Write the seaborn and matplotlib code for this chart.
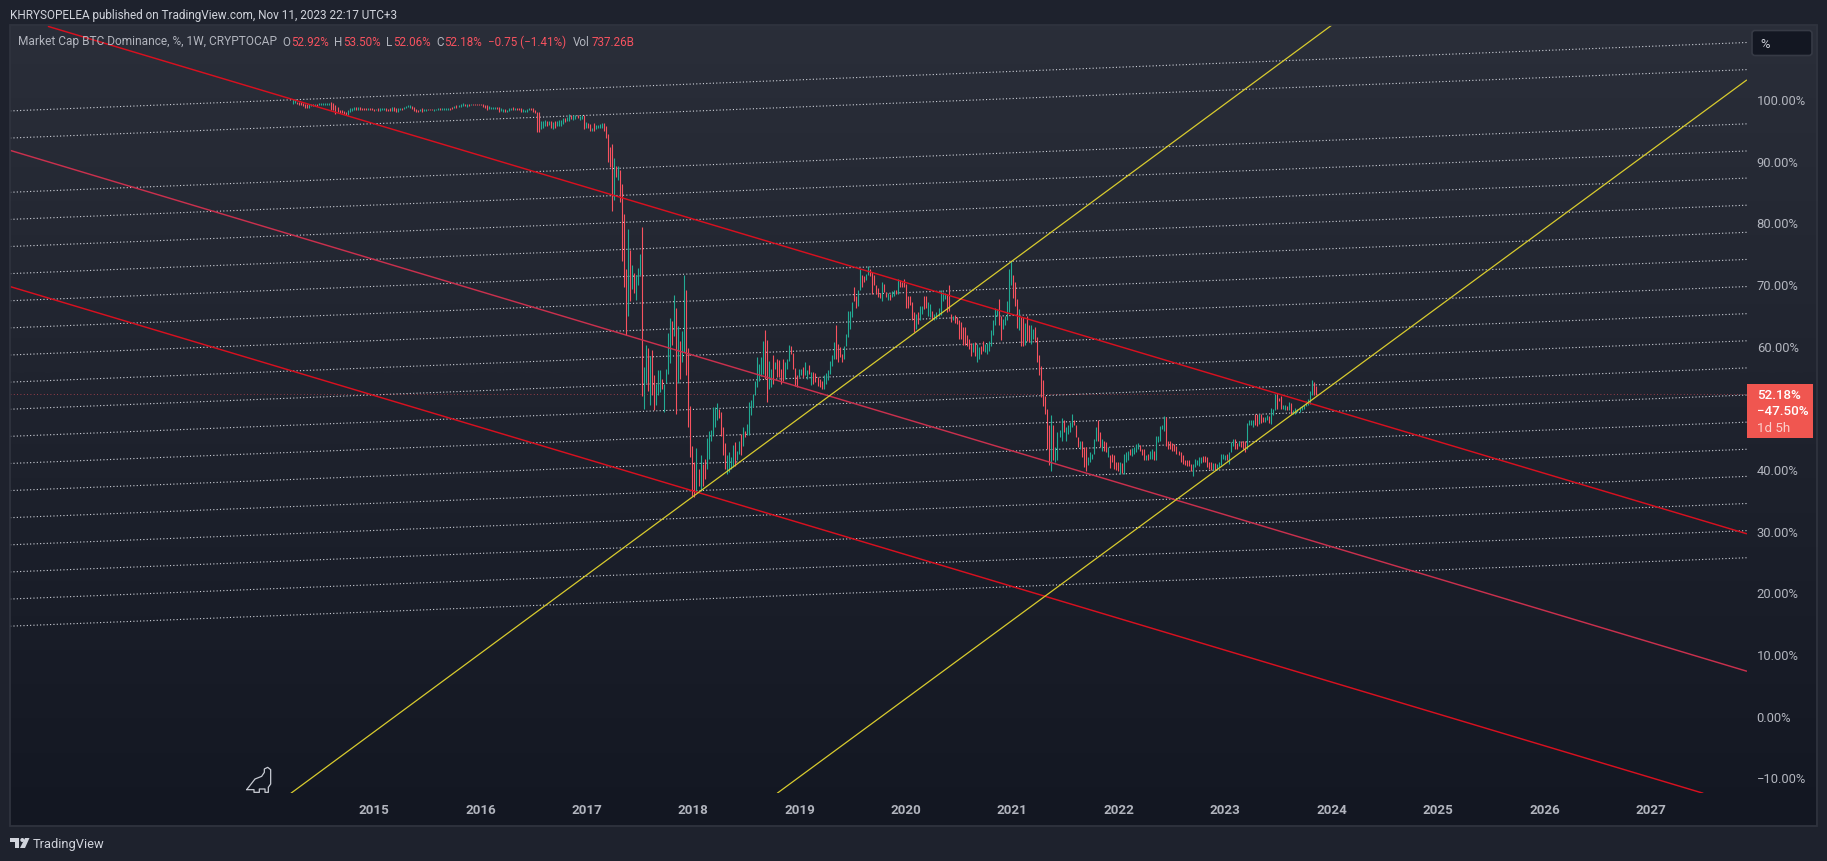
import numpy as np
import pandas as pd
import matplotlib
matplotlib.use("Agg")
import matplotlib.pyplot as plt
from matplotlib.patches import Rectangle, FancyBboxPatch, Polygon, Circle
import seaborn as sns

# ---- weekly bars (high / low / t=up r=down) ----
high_2014 = [100.0,100.0,99.6,99.6,99.5,99.4,99.3,99.2,99.2,99.2,
             99.2,99.2,99.2,99.4,99.4,99.4,99.4,99.4,99.4,99.5,
             99.4,99.0,98.7,98.3,98.2,98.1,98.0,98.2,98.5,98.6,
             98.7,98.7,98.7,98.8,98.6,98.6,98.6,98.6,98.6,98.5,
             98.4,98.4,98.6,98.5,98.5,98.6,98.5,98.4,98.5,98.8,
             98.8,98.5,98.5,98.6,98.6,98.7,98.9,99.0,99.0,98.9,
             98.7,98.4,98.3,98.4,98.5,98.4,98.4,98.4,98.4,98.4,
             98.4,98.4,98.5,98.5,98.6,98.6,98.6,98.6,98.6,98.7,
             98.9,99.0,99.1,99.2,99.4,99.3,99.2,99.3,99.3,99.3,
             99.3,99.3,99.3,99.3,99.2,99.1,99.0,98.9,98.7,98.7,
             98.7,98.7,98.7,98.5,98.4,98.4,98.3,98.5,98.6,98.7,
             98.6,98.6,98.6,98.5,98.4,98.3,98.4,98.6,98.6,98.5,
             98.3,98.0,97.9,96.5,96.4,96.7,96.5,96.4,96.5,96.3,
             96.4,96.5,96.7,96.7,96.9,96.9,97.1,97.6,97.5,97.5,
             97.5,97.5,97.3,97.5,97.5,96.3,96.2,96.0]
low_2014 = [99.2,99.4,99.2,99.1,99.1,98.9,98.6,98.5,98.6,98.9,
            98.9,98.9,98.9,99.0,99.1,99.1,99.1,99.1,99.1,98.2,
            98.3,97.6,98.0,97.8,97.7,97.6,97.5,97.5,97.9,98.1,
            98.3,98.3,98.3,98.3,98.3,98.3,98.3,98.3,98.3,98.3,
            98.1,98.2,98.1,98.1,98.2,98.2,98.1,98.1,98.1,98.1,
            98.1,98.0,98.0,98.3,98.3,98.4,98.5,98.7,98.5,98.4,
            98.1,98.0,97.9,98.1,97.9,98.1,98.1,98.2,98.2,98.2,
            98.1,98.2,98.3,98.3,98.3,98.3,98.3,98.3,98.3,98.4,
            98.5,98.6,98.7,98.7,98.9,98.9,98.7,98.9,99.0,99.0,
            99.0,99.0,99.0,99.0,98.7,98.6,98.2,98.4,98.4,98.4,
            98.4,98.4,98.0,98.1,98.0,98.0,97.9,98.1,98.3,98.3,
            98.3,98.3,98.3,98.0,98.0,97.9,98.0,98.2,98.3,98.0,
            97.8,94.6,94.7,95.2,95.4,95.7,95.7,95.8,95.4,95.1,
            95.4,95.6,95.7,95.7,96.0,96.3,96.5,96.4,96.8,96.7,
            96.8,96.9,96.7,96.8,95.1,95.4,95.3,94.9]
dir_2014 = ("ttrrrrrrtt" "rtrttttttr" "rrrrrrrttt" "trtrrrrtrr" "rtrtttrrrt"
            "rrttrttttr" "rrrtrttrrr" "tttrttttrr" "trtttrtrtr" "rrrrrrrttt"
            "trrttrtttr" "trrrttttrr" "rrrtttrtrt" "rttttrttrt" "trttrtrr")

high_2017 = [95.4,96.1,95.8,95.8,96.0,96.2,96.2,95.7,94.4,92.3,
             92.7,90.4,89.2,89.1,88.5,86.3,81.4,72.5,79.0,75.6,
             73.1,71.8,71.4,72.6,74.9,79.3,56.6,60.1,59.7,58.4,
             59.3,55.2,53.8,56.1,56.1,54.6,53.8,56.2,62.1,64.5,
             64.0,68.2,66.1,63.2,60.8,62.4,71.4,69.0,59.7,50.3]
low_2017 = [94.9,94.9,95.1,95.4,95.4,95.4,94.9,93.7,89.8,89.0,
            81.8,83.6,87.3,86.9,83.3,73.8,69.6,61.7,64.9,67.3,
            69.2,68.6,67.5,69.9,71.4,51.9,49.8,54.0,52.7,50.4,
            52.0,49.5,50.4,52.0,52.5,52.9,49.2,54.0,55.4,57.2,
            60.1,61.5,49.0,54.0,54.6,57.4,59.0,55.3,46.8,42.0]
dir_2017 = "trttttrrrr" "rtrtrrrrtr" "trtttrttrt" "rrtttrtttt" "rtrtrttrrr"

high_2018 = [43.8,41.1,43.4,40.0,42.2,40.8,41.6,45.0,46.1,46.4,
             50.0,50.0,50.7,49.8,49.2,46.8,44.2,42.2,42.7,41.9,
             43.9,44.3,43.0,44.6,45.7,46.8,46.2,47.3,50.8,51.2,
             52.2,54.3,58.1,57.0,58.1,60.8,62.5,61.0,57.6,56.2,
             58.5,57.4,57.8,57.7,56.2,57.9,57.3,57.9,60.1,59.9,
             58.9,56.4,55.3,56.3,56.2,56.5,57.3,56.0,56.8,55.7,
             55.7,55.5,54.9,54.6,54.3,55.3,55.6,56.0,57.6,58.5,
             60.6,63.4,60.3,59.8,58.7,60.0,61.9,65.7,65.7,67.1,
             69.5,68.1,69.0,72.4,71.4,71.3,71.7,73.0,72.4,71.9,
             71.5,69.8,69.3,68.6,70.4,70.0,68.7,68.6,68.4,68.8,
             69.1,69.0,70.8,70.6,70.3,70.9,70.0,68.1,68.0,67.1,
             65.5,65.2,65.4,66.5,66.5,68.1,68.1,67.1,66.8,65.7,
             65.2,65.4,66.2,69.1,68.7,68.6,68.4,69.9,65.2,64.9,
             65.0,64.6,64.1,63.8,63.0,63.0,61.7,61.1,60.5,60.5,
             60.6,60.3,59.8,60.0,60.8,60.3,60.5,60.8,62.5,64.1,
             66.2,66.0,67.6,64.9,64.3,64.9,67.3,72.4,73.7,71.5,
             70.3,67.6,66.0,64.6,64.6,63.7,64.9,63.3,63.4,62.7,
             63.0,61.4,58.5,56.7,54.5,51.9,49.7,47.1,48.8,47.2,
             43.5,46.0,46.3,48.2,47.9,46.8,47.1,47.6,49.0,47.9,
             47.2,45.2,44.6,44.6,43.5,43.5,41.9,42.7,42.5,44.9,
             46.8,47.9,46.0]
low_2018 = [35.7,35.4,36.3,37.3,36.5,37.3,38.3,40.0,41.6,44.6,
            45.5,46.8,48.0,48.2,45.3,42.2,40.0,39.2,39.5,40.0,
            40.3,40.5,41.4,42.4,42.2,43.8,45.2,45.5,45.5,48.7,
            50.0,52.0,53.3,54.3,55.1,55.4,54.6,50.9,52.9,53.3,
            53.8,56.2,55.0,55.0,53.8,54.3,54.6,56.2,57.6,58.7,
            56.2,53.5,53.3,55.0,55.2,55.0,55.2,54.6,55.4,53.6,
            53.8,54.1,53.4,53.3,53.0,52.9,53.8,54.5,55.4,56.7,
            57.9,57.9,57.3,58.1,57.3,57.9,60.0,61.4,62.7,64.6,
            67.3,66.2,66.5,69.0,69.5,70.3,70.6,71.4,71.3,68.4,
            69.8,68.4,67.9,67.7,67.3,68.7,67.9,67.5,67.5,67.9,
            68.1,68.4,68.4,69.5,69.5,69.5,66.2,66.2,66.6,64.1,
            62.3,62.7,63.5,64.1,65.2,66.0,66.2,64.9,64.6,64.1,
            64.1,64.3,64.9,65.0,67.3,67.6,65.4,65.7,63.9,64.1,
            63.7,63.5,61.1,61.1,60.1,60.1,60.0,59.5,58.4,59.0,
            58.4,57.3,57.8,58.7,59.2,59.0,58.7,59.2,60.0,61.7,
            63.3,64.9,63.3,61.0,62.7,63.3,64.1,65.4,69.8,67.7,
            66.5,62.9,62.5,59.9,59.9,60.1,60.8,60.6,60.3,61.1,
            60.6,57.4,55.2,51.7,50.3,48.9,43.3,40.6,39.7,41.4,
            41.2,41.4,45.2,44.6,46.0,44.6,45.7,46.0,46.8,47.1,
            45.2,43.5,43.3,41.9,40.3,39.7,40.7,41.1,41.6,42.5,
            44.6,44.6,43.5]
dir_2018 = ("rrtrtrrttt" "tttrrrrttt" "trttrtrttt" "ttttttrrtt" "rtrrrrtttr"
            "rrrttrttrt" "rrrrrttttt" "trrrrttttt" "rrttrrttrr" "rrrrtrrtrt"
            "trtrrrrrrr" "rtrttrrttr" "ttttttrrrt" "rrrrrrrrrt" "rttrrttttt"
            "ttrrtttttr" "rrtrrtrrtt" "rrrrrrrrtr" "ttttrttttr" "rrtrrrtttt" "trr")

high_2022 = [44.8,44.5,44.3,43.5,42.3,42.5,42.3,41.2,41.1,41.1,
             41.0,42.5,42.7,43.0,43.3,43.4,43.5,44.1,44.2,43.9,
             43.3,43.3,42.3,42.5,43.0,43.2,43.0,45.3,45.4,46.9,
             47.2,48.6,48.4,44.6,44.5,44.2,44.1,43.8,43.0,42.8,
             42.2,41.5,41.4,41.4,40.8,40.8,41.6,41.5,41.9,41.9,
             42.1,42.1,41.9,41.2,41.1,41.0,41.0,40.8,41.1,42.5,
             42.5,42.3,42.5,42.7,44.3,44.9,44.8,44.2,44.5,44.6,
             44.5,44.6,47.5,47.9,48.0,47.9,48.9,48.9,48.9,48.9,
             48.4,48.4,48.7,48.6,49.9,49.8,52.2,52.4,51.6,51.9,
             50.4,50.4,50.3,50.9,50.7,49.5,49.9,49.8,50.0,50.3,
             50.4,51.1,51.4,52.7,54.4,54.1,53.5]
low_2022 = [43.0,43.0,42.7,41.9,40.1,41.1,40.0,39.8,39.6,39.2,
            39.4,39.2,41.1,41.5,42.2,42.1,42.5,42.7,43.3,43.0,
            42.3,41.4,41.4,41.5,41.6,41.6,41.5,41.5,44.3,44.6,
            46.5,46.2,43.8,43.3,43.3,43.0,43.0,42.5,42.2,41.1,
            40.8,40.6,40.5,40.5,39.6,38.9,40.3,40.6,40.5,41.0,
            41.1,41.1,40.3,40.0,39.9,39.9,39.8,39.9,40.3,40.7,
            41.6,41.5,41.4,40.8,42.7,43.8,43.3,43.2,43.8,43.5,
            43.3,42.8,43.3,47.1,47.1,46.8,47.1,46.9,47.3,47.5,
            47.7,47.6,47.9,47.5,47.3,48.8,49.6,49.8,51.1,49.8,
            49.8,49.6,49.5,49.6,48.9,48.9,48.9,49.2,49.3,49.6,
            49.8,50.2,50.4,50.6,52.0,52.0,52.06]
dir_2022 = ("trrtrrrrrt" "rtttrttttr" "rrtrttrttt" "ttrrrrrrrr" "rrrrrttttt"
            "rrrrrtrttt" "ttrtttrrtr" "rrttttrrtr" "rttrtttrrr" "ttrtrttttt" "tttttrr")

first_bar_year = 2014.24
last_bar_year = 2023.85
last_close = 52.18

# dotted fan, percent at the left and right edge of the pane
fan_left = [98.1, 93.7, 84.9, 80.5, 76.1, 71.7, 67.3, 62.9, 58.5, 54.1,
            49.7, 45.3, 40.9, 36.5, 32.1, 27.7, 23.3, 18.9, 14.5]
fan_right = [109.2, 104.8, 96.0, 91.6, 87.2, 82.8, 78.4, 74.0, 69.6, 65.2,
             60.8, 56.4, 52.0, 47.6, 43.2, 38.8, 34.4, 30.0, 25.6]

# trend lines: year, percent at both ends
red_years = [[2011.94, 2027.90], [2011.58, 2027.90], [2011.58, 2027.49]]
red_pcts = [[111.8, 29.5], [91.7, 7.2], [69.6, -12.6]]
yellow_years = [[2014.22, 2024.00], [2018.79, 2027.90]]
yellow_pcts = [[-12.6, 112.0], [-12.6, 103.1]]

year_ticks = list(range(2015, 2028))
# the 50% tick sits under the last price label
pct_ticks = [-10, 0, 10, 20, 30, 40, 60, 70, 80, 90, 100]

# ---- style ----
W, H = 1827, 862
BG = "#1e222d"
UP = "#22ab94"
DOWN = "#f7525f"
TXT = "#b2b5be"

sns.set_theme(style="dark", rc={"figure.facecolor": BG, "axes.facecolor": "none",
                                "savefig.facecolor": BG, "xtick.bottom": False,
                                "ytick.left": False})
plt.rcParams["font.family"] = ["Roboto", "DejaVu Sans"]


def px_rect(x0, y0, x1, y1):
    # pixel box (origin top left) to figure fractions
    return [x0 / W, 1 - y1 / H, (x1 - x0) / W, (y1 - y0) / H]


fig = plt.figure(figsize=(W / 100, H / 100), dpi=100)

# pane gradient behind everything
bg_ax = fig.add_axes(px_rect(10, 26, 1817, 827), zorder=0)
grad = np.linspace(0, 1, 256).reshape(-1, 1)
cmap = matplotlib.colors.LinearSegmentedColormap.from_list("pane", ["#2a2e39", "#131722"])
bg_ax.imshow(grad, aspect="auto", cmap=cmap, interpolation="bilinear")
bg_ax.axis("off")

ax = fig.add_axes(px_rect(10, 26, 1747, 794), zorder=1)
ax.patch.set_alpha(0)

# dotted fan
fan = pd.DataFrame({
    "year": [2011.58] * len(fan_left) + [2027.90] * len(fan_right),
    "pct": fan_left + fan_right,
    "line": list(range(len(fan_left))) * 2,
})
sns.lineplot(data=fan, x="year", y="pct", units="line", estimator=None, color="#d1d4dc",
             lw=0.8, linestyle=(0, (1, 2)), legend=False, ax=ax, zorder=2)

ax.axhline(last_close, color=DOWN, lw=0.6, alpha=0.75, linestyle=(0, (1, 3)), zorder=2)

# weekly bars
highs = high_2014 + high_2017 + high_2018 + high_2022
lows = low_2014 + low_2017 + low_2018 + low_2022
dirs = dir_2014 + dir_2017 + dir_2018 + dir_2022
bar_years = np.linspace(first_bar_year, last_bar_year, len(highs))
bars = pd.DataFrame({"year": np.repeat(bar_years, 2),
                     "pct": np.column_stack([lows, highs]).ravel(),
                     "bar": np.repeat(np.arange(len(highs)), 2),
                     "dir": np.repeat(list(dirs), 2)})
sns.lineplot(data=bars, x="year", y="pct", units="bar", hue="dir", estimator=None,
             palette={"t": UP, "r": DOWN}, lw=0.8, solid_capstyle="butt",
             legend=False, ax=ax, zorder=3)

# red and yellow channels
for years, pcts, col in zip(red_years, red_pcts, ["#d8101f", "#c9304d", "#d8101f"]):
    sns.lineplot(x=years, y=pcts, color=col, lw=1.05, ax=ax, zorder=4)
for years, pcts in zip(yellow_years, yellow_pcts):
    sns.lineplot(x=years, y=pcts, color="#d8cb2e", lw=0.9, ax=ax, zorder=4)

ax.set_xlim(2011.579, 2027.904)
ax.set_ylim(-12.57, 112.04)
ax.set(xlabel=None, ylabel=None)
ax.grid(False)
sns.despine(ax=ax, left=True, bottom=True)
ax.yaxis.tick_right()
ax.set_xticks(year_ticks)
ax.set_xticklabels([str(y) for y in year_ticks], color=TXT, fontsize=9.6, fontweight="bold")
ax.set_yticks(pct_ticks)
ax.set_yticklabels([f"{p:.2f}%".replace("-", "\u2212") for p in pct_ticks], color=TXT, fontsize=9.4)
ax.tick_params(axis="x", length=0, pad=7)
ax.tick_params(axis="y", length=0, pad=7)

# overlay in pixels for the TradingView furniture
ov = fig.add_axes([0, 0, 1, 1], zorder=5)
ov.set_xlim(0, W)
ov.set_ylim(H, 0)
ov.axis("off")
ov.add_patch(Rectangle((10, 26), 1807, 801, fill=False, ec="#2f333e", lw=1.3))

ov.text(10, 15, "KHRYSOPELEA published on TradingView.com, Nov 11, 2023 22:17 UTC+3",
        color="#d1d4dc", fontsize=8.5, va="center")
ov.text(18, 42, "Market Cap BTC Dominance, %, 1W, CRYPTOCAP", color=TXT, fontsize=8.55, va="center")
legend_parts = [(282, "O", TXT), (291, "52.92%", DOWN), (334, "H", TXT), (343, "53.50%", DOWN),
                (386, "L", TXT), (393, "52.06%", DOWN), (436, "C", TXT), (444, "52.18%", DOWN),
                (488, "\u22120.75 (\u22121.41%)", DOWN), (573, "Vol", TXT), (592, "737.26B", DOWN)]
for x, s, c in legend_parts:
    ov.text(x, 42, s, color=c, fontsize=8.4, va="center")

# scale mode box and last price label
ov.add_patch(FancyBboxPatch((1752, 31.5), 60, 25, boxstyle="round,pad=0,rounding_size=3",
                            fc="#131722", ec="#363a45", lw=1.2, mutation_aspect=1))
ov.text(1760, 44, "%", color="#d1d4dc", fontsize=9.4, va="center")
ov.add_patch(Rectangle((1747, 385), 66, 53.7, fc="#f05650", ec="none"))
ov.text(1757, 396, "52.18%", color="white", fontsize=9.6, va="center", fontweight="medium")
ov.text(1757, 412, "\u221247.50%", color="white", fontsize=9.6, va="center", fontweight="medium")
ov.text(1757, 429, "1d 5h", color="#fbd0cd", fontsize=9.6, va="center")

# dino icon
dino_x = np.array([740, 765, 785, 793, 793, 803, 812, 812, 805, 805, 795, 795, 778, 778, 762, 762, 740]) / 3
dino_y = 740 + np.array([152, 120, 112, 100, 90, 85, 92, 135, 145, 160, 160, 150, 150, 160, 160, 152, 152]) / 3
ov.plot(dino_x, dino_y, color="#c8cbd3", lw=0.9)

# logo
logo = "#d1d4dc"
ov.add_patch(Polygon([(10, 839), (19, 839), (19, 849), (14.5, 849), (14.5, 843), (10, 843)], fc=logo, ec="none"))
ov.add_patch(Circle((22.3, 841), 2.0, fc=logo, ec="none"))
ov.add_patch(Polygon([(25, 839), (29.5, 839), (25, 849), (20, 849)], fc=logo, ec="none"))
ov.text(33, 845, "TradingView", color=logo, fontsize=9.3, va="center")

fig.savefig("out.png", dpi=100)
